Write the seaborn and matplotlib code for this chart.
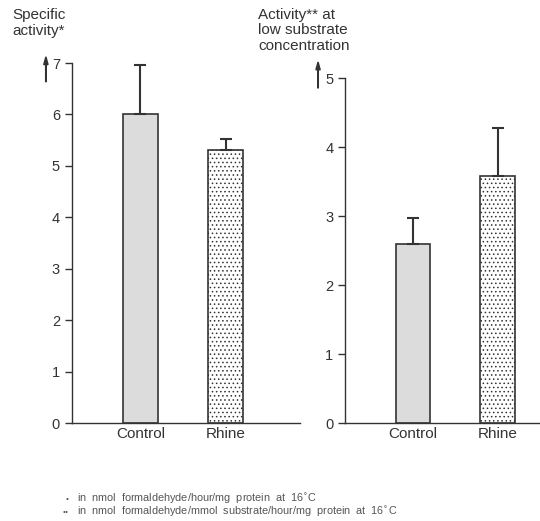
import matplotlib
matplotlib.use("Agg")
import matplotlib.pyplot as plt
import seaborn as sns

# data
groups = ["Control", "Rhine"]
specific_activity = [6.0, 5.3]
specific_err = [0.97, 0.22]
low_subst_activity = [2.6, 3.58]
low_subst_err = [0.37, 0.70]

sns.set_style("ticks")
plt.rcParams["font.family"] = ["Liberation Sans", "DejaVu Sans"]
plt.rcParams["hatch.linewidth"] = 0.6

fig = plt.figure(figsize=(5.4, 5.21), dpi=100)
ax1 = fig.add_axes([0.133, 0.188, 0.423, 0.691])
ax2 = fig.add_axes([0.639, 0.188, 0.361, 0.662])

ink = "#333333"


def panel(ax, vals, errs, ymax, xlim):
    sns.barplot(x=groups, y=vals, hue=groups, palette=["#dcdcdc", "white"],
                width=0.41, edgecolor=ink, linewidth=1.2, legend=False, ax=ax)
    ax.patches[1].set_hatch("....")
    ax.errorbar(range(len(vals)), vals, yerr=[[0] * len(errs), errs], fmt="none",
                ecolor=ink, elinewidth=1.5, capsize=4.3, capthick=1.5)
    ax.set_ylim(0, ymax)
    ax.set_xlim(*xlim)
    ax.set_yticks(range(ymax + 1))
    ax.set_xlabel("")
    ax.set_ylabel("")
    ax.tick_params(axis="y", length=5, width=1, color=ink, labelsize=10.5, labelcolor=ink)
    ax.tick_params(axis="x", length=0, labelsize=11, labelcolor=ink, pad=3)
    for s in ["top", "right"]:
        ax.spines[s].set_visible(False)
    for s in ["left", "bottom"]:
        ax.spines[s].set_color(ink)
        ax.spines[s].set_linewidth(1)


panel(ax1, specific_activity, specific_err, 7, (-0.806, 1.876))
panel(ax2, low_subst_activity, low_subst_err, 5, (-0.805, 1.5))

fig.text(0.022, 0.984, "Specific\nactivity*", ha="left", va="top",
         fontsize=11, color=ink, linespacing=1.15)
fig.text(0.478, 0.984, "Activity** at\nlow substrate\nconcentration", ha="left", va="top",
         fontsize=11, color=ink, linespacing=1.1)
fig.patches.append(matplotlib.patches.FancyArrow(
    0.085, 0.843, 0, 0.048, width=0.001, head_width=0.008, head_length=0.015,
    color=ink, transform=fig.transFigure, length_includes_head=True))
fig.patches.append(matplotlib.patches.FancyArrow(
    0.589, 0.831, 0, 0.05, width=0.001, head_width=0.008, head_length=0.015,
    color=ink, transform=fig.transFigure, length_includes_head=True))

note = "#555555"
fig.text(0.128, 0.042, "•", ha="right", va="center", fontsize=6, color=note)
fig.text(0.143, 0.042, "in  nmol  formaldehyde/hour/mg  protein  at  16$^{\\circ}$C",
         ha="left", va="center", fontsize=7.8, color=note)
fig.text(0.128, 0.017, "••", ha="right", va="center", fontsize=6, color=note)
fig.text(0.143, 0.017, "in  nmol  formaldehyde/mmol  substrate/hour/mg  protein  at  16$^{\\circ}$C",
         ha="left", va="center", fontsize=7.8, color=note)

fig.savefig("out.png", dpi=100)
